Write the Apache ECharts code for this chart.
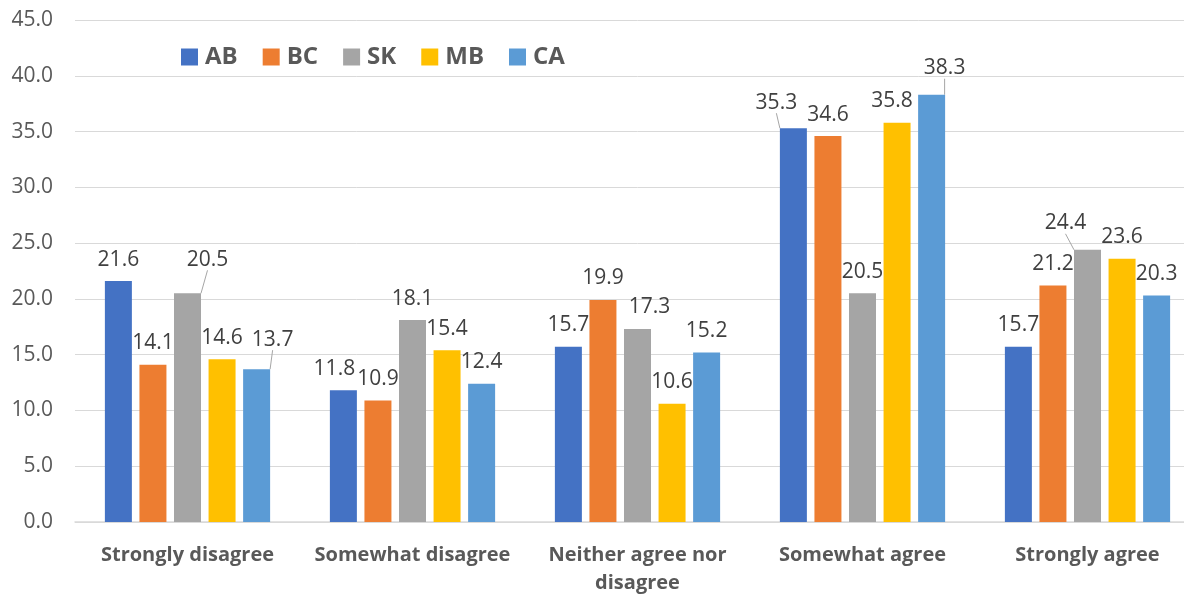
<!DOCTYPE html>
<html>
<head>
<meta charset="utf-8">
<script src="https://cdn.jsdelivr.net/npm/echarts@6/dist/echarts.min.js"></script>
<style>
  html, body { margin: 0; padding: 0; background: #ffffff; overflow: hidden; }
  #chart { width: 1200px; height: 597px; }
</style>
</head>
<body>
<div id="chart"></div>
<script>
// Survey responses by province (percent)
const categories = ['Strongly disagree', 'Somewhat disagree', 'Neither agree nor\ndisagree', 'Somewhat agree', 'Strongly agree'];
const seriesNames = ['AB', 'BC', 'SK', 'MB', 'CA'];
const AB = [21.6, 11.8, 15.7, 35.3, 15.7];
const BC = [14.1, 10.9, 19.9, 34.6, 21.2];
const SK = [20.5, 18.1, 17.3, 20.5, 24.4];
const MB = [14.6, 15.4, 10.6, 35.8, 23.6];
const CA = [13.7, 12.4, 15.2, 38.3, 20.3];
const yTicks = { min: 0, max: 45, interval: 5 };

const values = [AB, BC, SK, MB, CA];
const colors = ['#4472C4', '#ED7D31', '#A5A5A5', '#FFC000', '#5B9BD5'];

// Nudged data labels: [series, category] -> [dx, dy, leaderLine]
const labelShift = {
  '2-0': [20, -12, true],
  '4-0': [16, -8, true],
  '0-1': [-9, 0, false],
  '2-2': [12, 0, false],
  '0-3': [-17, -4, true],
  '3-3': [-5, 0, false],
  '4-3': [13, -5, true],
  '2-4': [-22, -5, true]
};

const FONT = '"Open Sans", "Noto Sans", sans-serif';

const chart = echarts.init(document.getElementById('chart'), null, { renderer: 'canvas' });

const series = seriesNames.map((name, s) => ({
  name: name,
  type: 'bar',
  barWidth: 27,
  barGap: '28%',
  itemStyle: { color: colors[s] },
  label: {
    show: true,
    position: 'top',
    distance: 11,
    fontFamily: FONT,
    fontSize: 21,
    color: '#404040',
    formatter: p => p.value.toFixed(1)
  },
  labelLine: { show: false, lineStyle: { color: '#A6A6A6', width: 1 } },
  labelLayout: function (p) {
    const sh = labelShift[s + '-' + p.dataIndex];
    if (!sh) return {};
    return { dx: sh[0], dy: sh[1] };
  },
  data: values[s].map((v, i) => {
    const sh = labelShift[s + '-' + i];
    const item = { value: v };
    if (sh && sh[2]) item.labelLine = { show: true, lineStyle: { color: '#A6A6A6', width: 1 } };
    return item;
  })
}));

chart.setOption({
  animation: false,
  backgroundColor: '#ffffff',
  grid: { left: 75, top: 20, width: 1125, height: 503, containLabel: false },
  legend: {
    data: seriesNames,
    left: 176,
    top: 40,
    icon: 'rect',
    itemWidth: 17,
    itemHeight: 17,
    itemGap: 25,
    textStyle: {
      fontFamily: FONT,
      fontSize: 24,
      fontWeight: 'bold',
      color: '#595959',
      padding: [0, 0, 0, 2]
    }
  },
  xAxis: {
    type: 'category',
    data: categories,
    axisLine: { lineStyle: { color: '#D9D9D9', width: 1.5 } },
    axisTick: { show: false },
    axisLabel: {
      fontFamily: FONT,
      fontSize: 20,
      fontWeight: 'bold',
      color: '#595959',
      margin: 19,
      lineHeight: 28,
      interval: 0
    }
  },
  yAxis: {
    type: 'value',
    min: yTicks.min,
    max: yTicks.max,
    interval: yTicks.interval,
    axisLine: { show: false },
    axisTick: { show: false },
    splitLine: { lineStyle: { color: '#D9D9D9', width: 1 } },
    axisLabel: {
      fontFamily: FONT,
      fontSize: 21,
      color: '#595959',
      margin: 22,
      formatter: v => v.toFixed(1)
    }
  },
  series: series
});
</script>
</body>
</html>
